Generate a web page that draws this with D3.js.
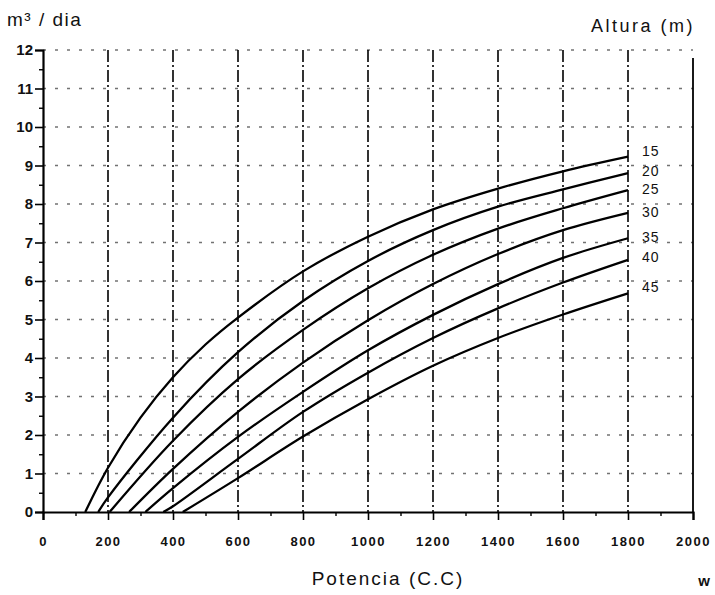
<!DOCTYPE html>
<html><head><meta charset="utf-8">
<script src="https://cdn.jsdelivr.net/npm/d3@7"></script>
<style>
body{margin:0;background:#fff;}
text{font-family:"Liberation Sans",Arial,sans-serif;fill:#111;}
</style></head>
<body><svg id="c" width="715" height="595"></svg>
<script>
// ---- data ----
const heights = ["15","20","25","30","35","40","45"];
const curve15 = [[130,0],[200,1.15],[300,2.45],[400,3.5],[500,4.35],[600,5.05],[800,6.25],[1000,7.15],[1200,7.86],[1400,8.4],[1600,8.85],[1800,9.23]];
const curve20 = [[170,0],[200,0.38],[400,2.45],[600,4.15],[800,5.48],[1000,6.52],[1200,7.32],[1400,7.93],[1600,8.38],[1800,8.8]];
const curve25 = [[205,0],[400,1.85],[600,3.45],[800,4.73],[1000,5.81],[1200,6.68],[1400,7.36],[1600,7.89],[1800,8.36]];
const curve30 = [[265,0],[400,1.12],[600,2.6],[800,3.88],[1000,4.98],[1200,5.92],[1400,6.7],[1600,7.32],[1800,7.77]];
const curve35 = [[315,0],[400,0.62],[600,1.95],[800,3.12],[1000,4.2],[1200,5.12],[1400,5.92],[1600,6.6],[1800,7.11]];
const curve40 = [[370,0],[400,0.15],[600,1.38],[800,2.6],[1000,3.62],[1200,4.52],[1400,5.29],[1600,5.96],[1800,6.55]];
const curve45 = [[430,0],[600,0.88],[800,1.96],[1000,2.93],[1200,3.8],[1400,4.52],[1600,5.13],[1800,5.68]];
const curves = [curve15,curve20,curve25,curve30,curve35,curve40,curve45];
const xTicks = [0,200,400,600,800,1000,1200,1400,1600,1800,2000];
const yTicks = [0,1,2,3,4,5,6,7,8,9,10,11,12];
const xTitle = "Potencia (C.C)";
const yTitle = "m³ / dia";
const legendTitle = "Altura (m)";
const unitW = "w";

// ---- layout ----
const svg = d3.select("#c");
const x = d3.scaleLinear().domain([0,2000]).range([43,693]);
const y = d3.scaleLinear().domain([0,12]).range([512,50]);
const labelShift = [-4,-1,0,0,0,-2,-5];

// horizontal grid (broken, scan-like)
svg.append("g").selectAll("line").data(yTicks.filter(d=>d>0)).join("line")
  .attr("x1",x(0)).attr("x2",x(2000)).attr("y1",d=>y(d)).attr("y2",d=>y(d))
  .attr("stroke","#000").attr("stroke-width",1.3).attr("opacity",0.55)
  .attr("stroke-dasharray","3,9");

// vertical grid
svg.append("g").selectAll("line").data(xTicks.filter(d=>d>0&&d<2000)).join("line")
  .attr("x1",d=>x(d)).attr("x2",d=>x(d)).attr("y1",y(12)).attr("y2",y(0))
  .attr("stroke","#000").attr("stroke-width",1.6)
  .attr("stroke-dasharray","12,3,2,3");

// right border
svg.append("line").attr("x1",x(2000)).attr("x2",x(2000)).attr("y1",y(12)+8).attr("y2",y(0))
  .attr("stroke","#000").attr("stroke-width",1.8);

// axes
const xAxis = d3.axisBottom(x).tickValues(xTicks).tickSize(8).tickFormat(d=>d);
const gx = svg.append("g").attr("transform",`translate(0,${y(0)})`).call(xAxis);
gx.select(".domain").attr("stroke-width",2.2);
gx.selectAll(".tick line").attr("stroke-width",1.6);
gx.selectAll(".tick text").attr("y",29).attr("dy","0.35em").style("font-size","13px").style("font-weight","bold").style("letter-spacing","1.5px").attr("fill","#111");
const gxm = svg.append("g").attr("transform",`translate(0,${y(0)})`)
  .call(d3.axisBottom(x).tickValues(d3.range(100,2000,200)).tickSize(4).tickFormat(""));
gxm.select(".domain").remove();
gxm.selectAll(".tick line").attr("stroke-width",1.4);

const yAxis = d3.axisLeft(y).tickValues(yTicks).tickSize(8).tickFormat(d=>d);
const gy = svg.append("g").attr("transform",`translate(${x(0)},0)`).call(yAxis);
gy.select(".domain").attr("stroke-width",2.2);
gy.selectAll(".tick line").attr("stroke-width",1.6);
gy.selectAll(".tick text").attr("x",-10).style("font-size","15px").style("font-weight","bold").attr("fill","#111");
const gym = svg.append("g").attr("transform",`translate(${x(0)},0)`)
  .call(d3.axisLeft(y).tickValues(d3.range(0.5,12,1)).tickSize(4).tickFormat(""));
gym.select(".domain").remove();
gym.selectAll(".tick line").attr("stroke-width",1.4);

// curves
const line = d3.line().x(d=>x(d[0])).y(d=>y(d[1])).curve(d3.curveCatmullRom.alpha(0.5));
svg.append("g").selectAll("path").data(curves).join("path")
  .attr("d",line).attr("fill","none").attr("stroke","#000").attr("stroke-width",2.3);

// curve labels
svg.append("g").selectAll("text").data(curves).join("text")
  .attr("x",x(1800)+14).attr("y",(d,i)=>y(d[d.length-1][1])+labelShift[i])
  .attr("dominant-baseline","middle").style("font-size","14px").style("letter-spacing","1px")
  .text((d,i)=>heights[i]);

// titles
svg.append("text").attr("x",7).attr("y",26).style("font-size","19px").style("letter-spacing","1.5px").text(yTitle);
svg.append("text").attr("x",695).attr("y",32).attr("text-anchor","end").style("font-size","18px").style("letter-spacing","2.5px").text(legendTitle);
svg.append("text").attr("x",388).attr("y",585).attr("text-anchor","middle").style("font-size","19px").style("letter-spacing","2px").text(xTitle);
svg.append("text").attr("x",704).attr("y",586).attr("text-anchor","middle").style("font-size","15px").style("font-weight","bold").text(unitW);
</script></body></html>
